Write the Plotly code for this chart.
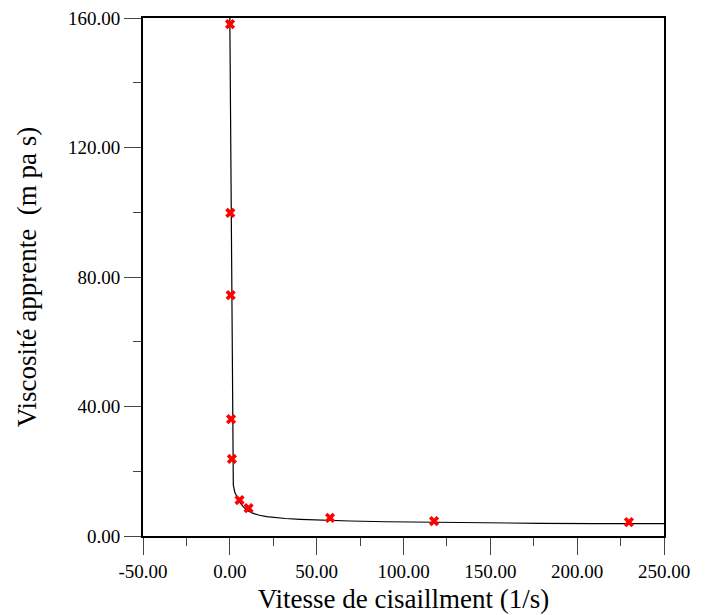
import plotly.graph_objects as go

# measured data points (shear rate 1/s, apparent viscosity mPa.s)
shear_rate = [0.1, 0.3, 0.5, 0.7, 1.2, 5.6, 10.8, 57.7, 117.6, 229.8]
viscosity = [158.1, 99.8, 74.4, 36.1, 23.8, 11.1, 8.6, 5.6, 4.6, 4.3]

# fitted curve
curve_x = [0.0, 0.7, 1.3, 1.8, 2.0, 2.8, 4.0, 5.5, 7.8, 10.0, 13.5, 17.0, 21.2,
           26.0, 32.0, 40.4, 55.0, 69.2, 90.0, 120.0, 150.0, 178.7, 210.0, 250.0]
curve_y = [160.0, 110.0, 60.0, 25.0, 15.8, 13.6, 12.1, 10.5, 9.0, 7.9, 7.0, 6.4, 5.96,
           5.65, 5.4, 5.16, 4.85, 4.63, 4.4, 4.2, 4.05, 3.92, 3.85, 3.8]

x_ticks = [-50, 0, 50, 100, 150, 200, 250]
y_ticks = [0, 40, 80, 120, 160]

FONT = "Liberation Serif"

fig = go.Figure()
fig.add_trace(go.Scatter(x=curve_x, y=curve_y, mode="lines",
                         line=dict(color="black", width=1.2), showlegend=False))
fig.add_trace(go.Scatter(x=shear_rate, y=viscosity, mode="markers",
                         marker=dict(symbol="x", size=9, color="red",
                                     line=dict(width=0)), showlegend=False))

axis_common = dict(
    showgrid=False, zeroline=False, showline=True, linecolor="black", linewidth=2,
    mirror=True, ticks="outside", ticklen=17, tickwidth=1.2, tickcolor="#444",
    tickfont=dict(family=FONT, size=19, color="black"), automargin=False,
)

fig.update_xaxes(range=[-50, 250], tickvals=x_ticks,
                 ticktext=[f"{v:.2f}" for v in x_ticks],
                 minor=dict(dtick=25, ticks="outside", ticklen=8, tickwidth=1.2, tickcolor="#444"),
                 title=dict(text="Vitesse de cisaillment (1/s)",
                            font=dict(family=FONT, size=27, color="black"), standoff=8),
                 **axis_common)
fig.update_yaxes(range=[0, 160], tickvals=y_ticks,
                 ticktext=[f"{v:.2f}" for v in y_ticks],
                 minor=dict(dtick=20, ticks="outside", ticklen=8, tickwidth=1.2, tickcolor="#444"),
                 title=dict(text="Viscosité apprente  (m pa s)",
                            font=dict(family=FONT, size=27, color="black"), standoff=24),
                 **axis_common)

fig.update_layout(
    width=712, height=615,
    margin=dict(l=143, r=48, t=18, b=79),
    paper_bgcolor="white", plot_bgcolor="white",
)

fig.write_html("out.html")
